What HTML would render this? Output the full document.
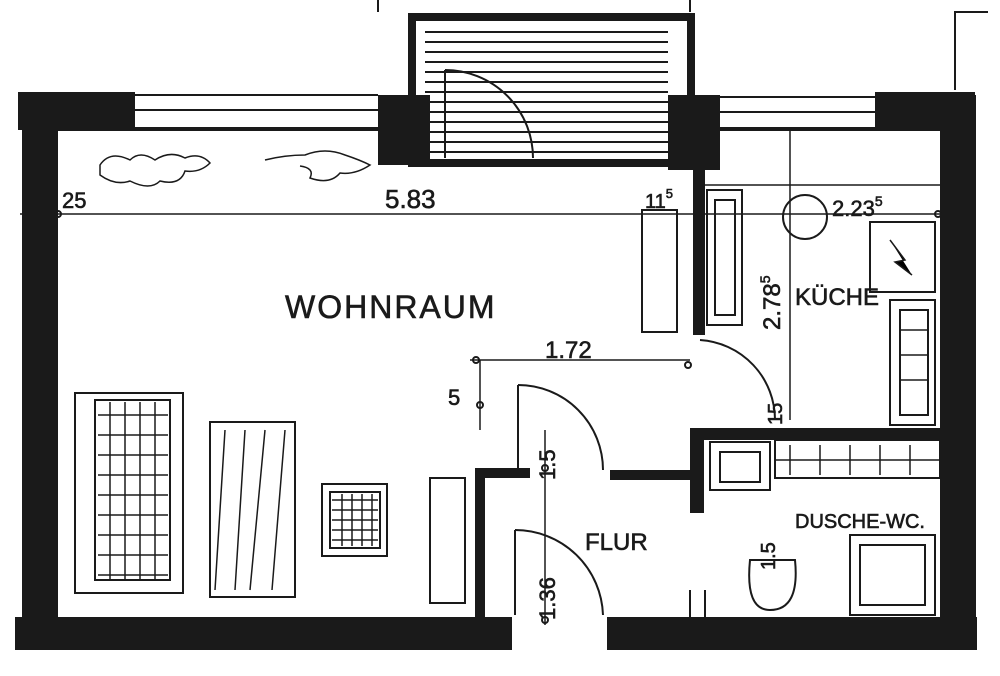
<!DOCTYPE html>
<html><head><meta charset="utf-8"><style>
html,body{margin:0;padding:0;background:#fff}
svg{display:block}
text{font-family:"Liberation Sans",sans-serif;fill:#1a1a1a;stroke:#1a1a1a;stroke-width:0.6}
</style></head><body>
<svg width="1000" height="676" viewBox="0 0 1000 676" xmlns="http://www.w3.org/2000/svg">
<rect width="1000" height="676" fill="#fff"/>
<g fill="#1a1a1a">
<rect x="18" y="92" width="117" height="38"/>
<rect x="22" y="92" width="36" height="550"/>
<rect x="15" y="617" width="497" height="33"/>
<rect x="607" y="617" width="370" height="33"/>
<rect x="940" y="95" width="36" height="555"/>
<rect x="875" y="92" width="100" height="38"/>
<rect x="378" y="95" width="52" height="70"/>
<rect x="668" y="95" width="52" height="75"/>
<rect x="693" y="130" width="12" height="205"/>
<rect x="690" y="428" width="250" height="12"/>
<rect x="690" y="428" width="14" height="85"/>
<rect x="475" y="468" width="10" height="150"/>
<rect x="475" y="468" width="55" height="10"/>
<rect x="610" y="470" width="80" height="10"/>
</g>
<g fill="none" stroke="#1a1a1a" stroke-width="2">
<rect x="412" y="17" width="279" height="146" stroke-width="8"/>
<line x1="378" y1="0" x2="378" y2="12"/><line x1="690" y1="0" x2="690" y2="12"/>
<path d="M955 90 V12 H988"/>
<line x1="135" y1="95" x2="378" y2="95"/><line x1="135" y1="110" x2="378" y2="110"/><line x1="135" y1="128" x2="378" y2="128"/>
<line x1="720" y1="97" x2="875" y2="97"/><line x1="720" y1="112" x2="875" y2="112"/><line x1="720" y1="128" x2="875" y2="128"/>
<line x1="58" y1="130" x2="378" y2="130"/>
<line x1="720" y1="130" x2="940" y2="130"/>
<line x1="20" y1="214" x2="945" y2="214" stroke-width="1.5"/>
<line x1="470" y1="360" x2="690" y2="360" stroke-width="1.5"/>
<line x1="480" y1="360" x2="480" y2="430" stroke-width="1.5"/>
<line x1="545" y1="430" x2="545" y2="625" stroke-width="1.5"/>
<line x1="790" y1="130" x2="790" y2="420" stroke-width="1.5"/>
<line x1="705" y1="185" x2="940" y2="185" stroke-width="1.5"/>
<circle cx="58" cy="214" r="3"/><circle cx="938" cy="214" r="3"/><circle cx="476" cy="360" r="3"/><circle cx="688" cy="365" r="3"/><circle cx="545" cy="468" r="3"/><circle cx="545" cy="620" r="3"/><circle cx="480" cy="405" r="3"/>
<path d="M445 70 A88 88 0 0 1 533 158"/><line x1="445" y1="70" x2="445" y2="158"/>
<path d="M700 340 A80 80 0 0 1 775 420"/>
<line x1="518" y1="385" x2="518" y2="470"/><path d="M518 385 A85 85 0 0 1 603 470"/>
<line x1="515" y1="530" x2="515" y2="615"/><path d="M515 530 A88 88 0 0 1 603 615"/>
<rect x="75" y="393" width="108" height="200"/>
<rect x="95" y="400" width="75" height="180"/>
<rect x="210" y="422" width="85" height="175"/>
<rect x="322" y="484" width="65" height="72"/>
<rect x="330" y="492" width="50" height="56"/>
<rect x="430" y="478" width="35" height="125"/>
<rect x="642" y="210" width="35" height="122"/>
<rect x="707" y="190" width="35" height="135"/>
<rect x="715" y="200" width="20" height="115"/>
<circle cx="805" cy="217" r="22"/>
<rect x="870" y="222" width="65" height="70"/>
<rect x="890" y="300" width="45" height="125"/>
<rect x="900" y="310" width="28" height="105"/>
<rect x="710" y="442" width="60" height="48"/>
<rect x="720" y="452" width="40" height="30"/>
<rect x="775" y="440" width="165" height="38"/>
<rect x="850" y="535" width="85" height="80"/>
<rect x="860" y="545" width="65" height="60"/>
<path d="M750 560 Q745 610 770 610 Q800 610 795 560 Z"/>
<line x1="690" y1="590" x2="690" y2="618"/><line x1="705" y1="590" x2="705" y2="618"/>
</g>
<g stroke="#1a1a1a" stroke-width="2">
<line x1="425" y1="32" x2="668" y2="32"/><line x1="425" y1="42" x2="668" y2="42"/><line x1="425" y1="52" x2="668" y2="52"/><line x1="425" y1="62" x2="668" y2="62"/><line x1="425" y1="72" x2="668" y2="72"/><line x1="425" y1="82" x2="668" y2="82"/><line x1="425" y1="92" x2="668" y2="92"/><line x1="425" y1="102" x2="668" y2="102"/><line x1="425" y1="112" x2="668" y2="112"/><line x1="425" y1="122" x2="668" y2="122"/><line x1="425" y1="132" x2="668" y2="132"/><line x1="425" y1="142" x2="668" y2="142"/><line x1="425" y1="152" x2="668" y2="152"/>
</g>
<g stroke="#1a1a1a" stroke-width="1.5">
<path d="M98 415H168M98 435H168M98 455H168M98 475H168M98 495H168M98 515H168M98 535H168M98 555H168M98 575H168M110 402V580M125 402V580M140 402V580M155 402V580"/>
<path d="M225 430 L215 590M245 430 L235 590M265 430 L250 590M285 430 L272 590"/>
<path d="M332 500H378M332 510H378M332 520H378M332 530H378M332 540H378M342 494V546M352 494V546M362 494V546M372 494V546"/>
<path d="M790 445V475M820 445V475M850 445V475M880 445V475M910 445V475M775 460H940"/>
<path d="M900 330H928M900 355H928M900 380H928"/>
<path d="M890 240 L905 260 L895 262 L912 275"/>
</g>
<text x="285" y="318" font-size="32" letter-spacing="2">WOHNRAUM</text>
<text x="385" y="208" font-size="26">5.83</text>
<text x="62" y="208" font-size="22">25</text>
<text x="645" y="208" font-size="20">11<tspan font-size="13" dy="-10">5</tspan></text>
<text x="832" y="216" font-size="22">2.23<tspan font-size="14" dy="-10">5</tspan></text>
<text x="545" y="358" font-size="24">1.72</text>
<text x="448" y="405" font-size="22">5</text>
<text x="795" y="305" font-size="24">KÜCHE</text>
<text x="585" y="550" font-size="24">FLUR</text>
<text x="795" y="528" font-size="20">DUSCHE-WC.</text>
<text transform="translate(780,330) rotate(-90)" font-size="24">2.78<tspan font-size="14" dy="-10">5</tspan></text>
<text transform="translate(555,480) rotate(-90)" font-size="22">1.5</text>
<text transform="translate(555,620) rotate(-90)" font-size="22">1.36</text>
<text transform="translate(782,425) rotate(-90)" font-size="20">15</text>
<text transform="translate(775,570) rotate(-90)" font-size="20">1.5</text>
<g fill="none" stroke="#1a1a1a" stroke-width="1.5">
<path d="M100 165 q10 -15 30 -5 q10 -10 25 0 q15 -10 30 -2 q15 -6 25 5 q-10 10 -25 8 q-5 15 -25 10 q-10 10 -30 0 q-15 5 -30 -6z"/>
<path d="M265 160 q20 -5 40 -5 q20 -8 40 0 q15 5 25 10 q-15 10 -30 8 q-10 12 -30 5 q5 -10 -10 -12"/>
</g>
</svg>
</body></html>
